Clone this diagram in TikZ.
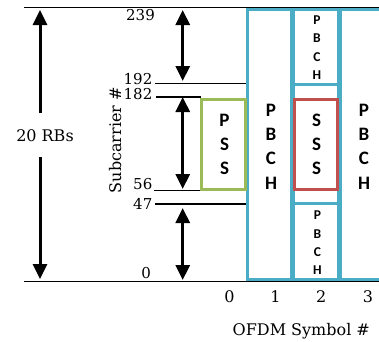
\documentclass[tikz,border=0pt]{standalone}
\usepackage{fontspec}
\setmainfont{DejaVu Serif}
\newfontfamily\boxfont{Carlito}
\usetikzlibrary{arrows.meta}
\definecolor{ofblue}{HTML}{4BACC6}
\definecolor{ofred}{HTML}{C0504D}
\definecolor{ofgreen}{HTML}{9BBB59}
\begin{document}
\begin{tikzpicture}[x=1pt,y=-1pt,
 lbl/.style={inner sep=0pt, font=\fontsize{16}{19}\selectfont},
 num/.style={inner sep=0pt, anchor=base east, font=\fontsize{15}{18}\selectfont},
 bigstack/.style={inner sep=0pt, align=center, font=\boxfont\bfseries\fontsize{19}{24.3}\selectfont},
 smallstack/.style={inner sep=0pt, align=center, font=\boxfont\bfseries\fontsize{13.5}{18.3}\selectfont},
 blueline/.style={draw=ofblue, line width=3pt},
 axisline/.style={draw=black, line width=1.6pt},
 tickline/.style={draw=black, line width=1.2pt},
 dimarrow/.style={line width=3pt, {Triangle[length=15pt,width=14pt]}-{Triangle[length=15pt,width=14pt]}},
 halfarrow/.style={line width=3pt, -{Triangle[length=15pt,width=14pt]}},
]
\useasboundingbox (0,0) rectangle (379,341);

% axis lines
\coordinate (tl) at (24,7.5); \coordinate (tr) at (381,7.5);
\coordinate (bl) at (24,281.3); \coordinate (br) at (381,281.3);
\draw[axisline] (tl) -- (tr);
\draw[axisline] (bl) -- (br);

% tick lines
\coordinate (t192a) at (155,83.3); \coordinate (t192b) at (247,83.3);
\coordinate (t182a) at (156,97); \coordinate (t182b) at (201,97);
\coordinate (t56a) at (154,190.8); \coordinate (t56b) at (247,190.8);
\coordinate (t47a) at (155,204); \coordinate (t47b) at (247,204);
\draw[tickline] (t192a) -- (t192b);
\draw[tickline] (t182a) -- (t182b);
\draw[tickline] (t56a) -- (t56b);
\draw[tickline] (t47a) -- (t47b);

% blue columns
\draw[blueline] (247,9.7) rectangle (291.5,279.3);
\draw[blueline] (293.5,9.7) rectangle (338.5,279.3);
\draw[blueline] (293.5,84) -- (338.5,84);
\draw[blueline] (293.5,203.7) -- (338.5,203.7);
\draw[blueline] (381,9.7) -- (340.5,9.7) -- (340.5,279.3) -- (381,279.3);

% red and green boxes
\draw[draw=ofred, line width=3pt, fill=white] (294,99.7) rectangle (337,189.8);
\draw[draw=ofgreen, line width=3pt] (201.7,99.3) rectangle (245,189);

% stacked labels
\node[bigstack] (pbch1) at (271,146.5) {P\\B\\C\\H};
\node[bigstack] (pbch3) at (364,146.5) {P\\B\\C\\H};
\node[bigstack] (pss) at (224.5,144.5) {P\\S\\S};
\node[bigstack] (sss) at (316.7,144.5) {S\\S\\S};
\node[smallstack] (pbchup) at (317,47.5) {P\\B\\C\\H};
\node[smallstack] (pbchlo) at (317.5,243) {P\\B\\C\\H};

% numbers
\node[num] (n239) at (155,20.7) {239};
\node[num] (n192) at (152.5,84.3) {192};
\node[num] (n182) at (152.5,99.3) {182};
\node[num] (n56) at (152.5,189) {56};
\node[num] (n47) at (152.5,209) {47};
\node[num] (n0) at (151,278.7) {0};

% x labels
\node[lbl, anchor=base] (x0) at (229.5,302.7) {0};
\node[lbl, anchor=base] (x1) at (275.5,302.7) {1};
\node[lbl, anchor=base] (x2) at (321.3,302.7) {2};
\node[lbl, anchor=base] (x3) at (368,302.7) {3};
\node[lbl, anchor=base] (xt) at (301.3,335.5) {OFDM Symbol \#};

% y title
\node[lbl, anchor=base, rotate=90] (yt) at (121,140) {Subcarrier \#};

% 20 RBs
\node[lbl, anchor=base] (rbs) at (45,141.7) {20 RBs};
\coordinate (bigtop) at (40,10); \coordinate (bigtopgap) at (40,113);
\coordinate (bigbot) at (40,279); \coordinate (bigbotgap) at (40,157);
\draw[halfarrow] (bigtopgap) -- (bigtop);
\draw[halfarrow] (bigbotgap) -- (bigbot);

% right dimension arrows
\coordinate (a1t) at (182.7,10); \coordinate (a1b) at (182.7,81);
\coordinate (a2t) at (182.7,97); \coordinate (a2b) at (182.7,189);
\coordinate (a3t) at (182.7,208); \coordinate (a3b) at (182.7,280);
\draw[dimarrow] (a1t) -- (a1b);
\draw[dimarrow] (a2t) -- (a2b);
\draw[dimarrow] (a3t) -- (a3b);
\end{tikzpicture}
\end{document}
